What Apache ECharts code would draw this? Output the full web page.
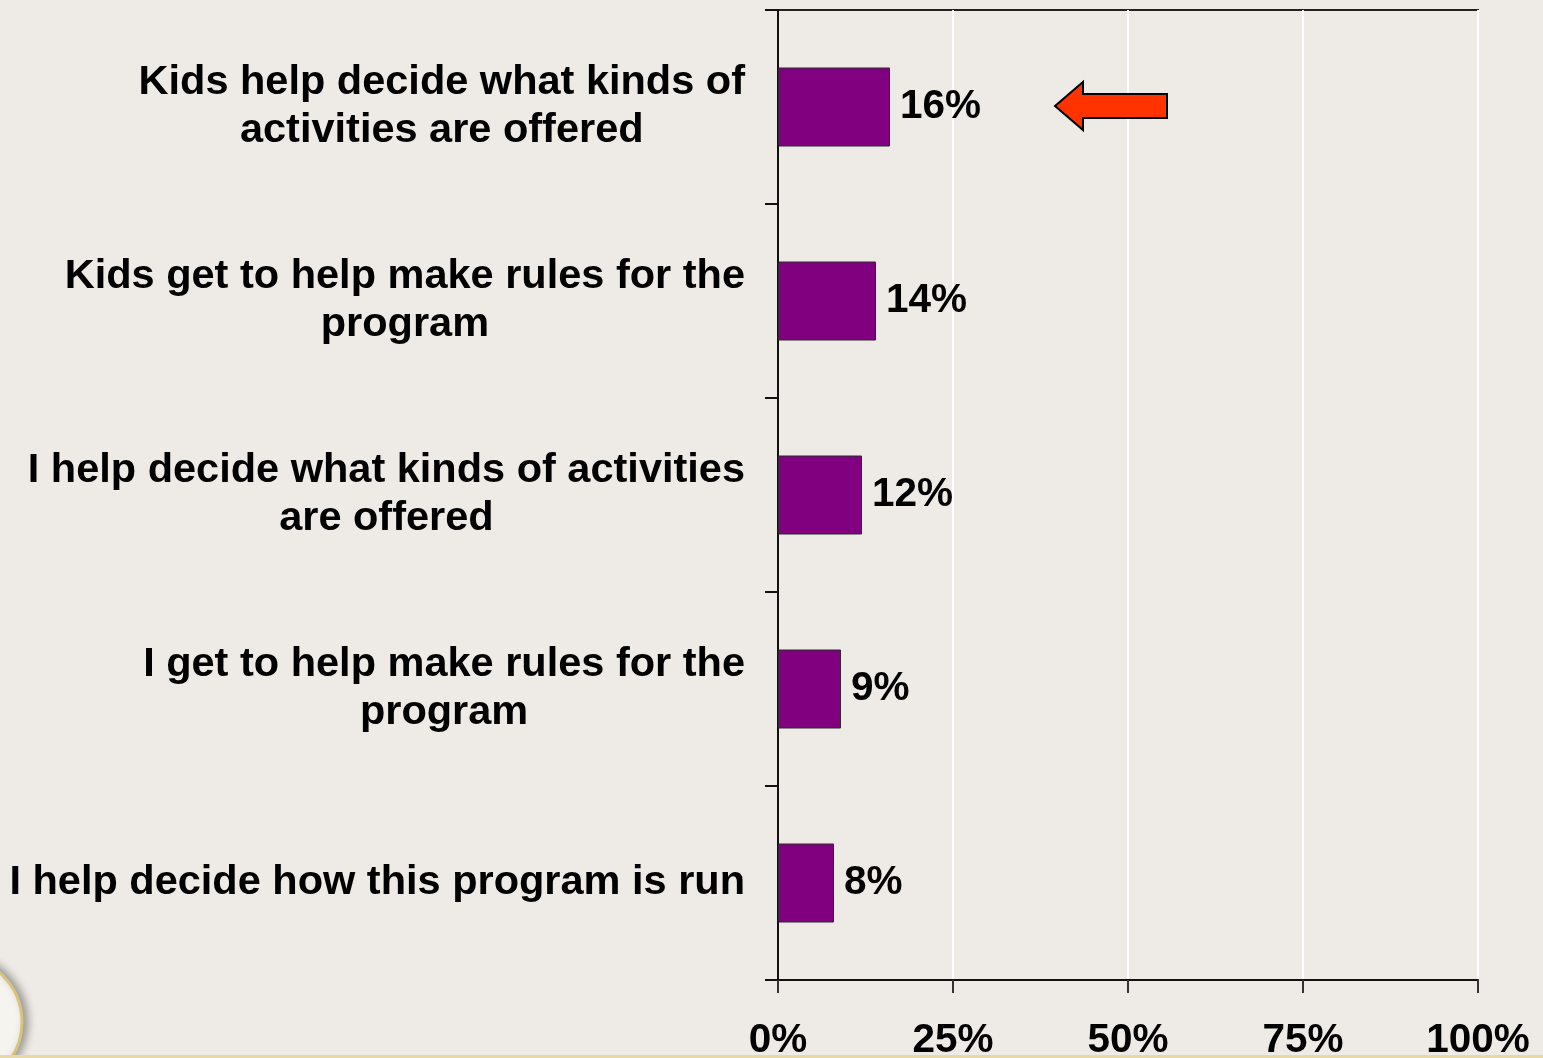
<!DOCTYPE html>
<html>
<head>
<meta charset="utf-8">
<style>
  html, body { margin: 0; padding: 0; background: #EEEBE6; }
  #chart { width: 1543px; height: 1058px; }
</style>
<script src="https://cdn.jsdelivr.net/npm/echarts@6/dist/echarts.min.js"></script>
</head>
<body>
<div id="chart"></div>
<script>
const categories = [
  "Kids help decide what kinds of\nactivities are offered",
  "Kids get to help make rules for the\nprogram",
  "I help decide what kinds of activities\nare offered",
  "I get to help make rules for the\nprogram",
  "I help decide how this program is run"
];
const values = [16, 14, 12, 9, 8];
const xTicks = [0, 25, 50, 75, 100];

const FONT = "'Liberation Sans', Arial, Helvetica, sans-serif";
const chart = echarts.init(document.getElementById('chart'), null, { renderer: 'canvas' });

const option = {
  backgroundColor: '#EEEBE6',
  animation: false,
  grid: {
    left: 778, right: 65, top: 10, bottom: 78,
    containLabel: false, outerBoundsMode: 'none',
    show: true, borderColor: '#222', borderWidth: 2, backgroundColor: 'transparent'
  },
  xAxis: {
    type: 'value',
    min: xTicks[0], max: xTicks[xTicks.length - 1], interval: 25,
    axisLine: { show: true, lineStyle: { color: '#111', width: 2 } },
    axisTick: { show: true, length: 13, lineStyle: { color: '#333', width: 2 } },
    splitLine: { show: true, lineStyle: { color: '#FFFFFF', width: 2 } },
    axisLabel: {
      formatter: '{value}%', margin: 40,
      fontFamily: FONT, fontWeight: 'bold', fontSize: 40.5, color: '#000'
    }
  },
  yAxis: {
    type: 'category',
    inverse: true,
    data: categories,
    boundaryGap: true,
    axisLine: { show: true, lineStyle: { color: '#111', width: 2 } },
    axisTick: { show: true, length: 13, alignWithLabel: false, lineStyle: { color: '#111', width: 2 } },
    splitLine: { show: false },
    axisLabel: {
      align: 'right', margin: 33, verticalAlign: 'middle',
      fontFamily: FONT, fontWeight: 'bold', fontSize: 41.5, color: '#000', lineHeight: 48,
      formatter: function (v) {
        return v.split('\n').map(function (l) { return '{c|' + l + '}'; }).join('\n');
      },
      rich: {
        c: { align: 'center', fontFamily: FONT, fontWeight: 'bold', fontSize: 41.5, color: '#000', lineHeight: 48 }
      }
    }
  },
  series: [{
    type: 'bar',
    data: values,
    barWidth: 79,
    itemStyle: { color: '#800080', borderColor: '#2a2a2a', borderWidth: 1 },
    label: {
      show: true, position: 'right', distance: 10, formatter: '{c}%',
      fontFamily: FONT, fontWeight: 'bold', fontSize: 40.5, color: '#000'
    }
  }],
  graphic: [
    {
      type: 'polygon',
      shape: { points: [[1055, 106], [1083, 82], [1083, 94], [1167, 94], [1167, 118], [1083, 118], [1083, 130]] },
      style: { fill: '#FF3300', stroke: '#000', lineWidth: 2 },
      z: 10
    },
    {
      type: 'circle',
      shape: { cx: -44, cy: 1022, r: 66 },
      style: { fill: '#F6F4EE', stroke: '#D8C27C', lineWidth: 3, shadowBlur: 8, shadowColor: 'rgba(0,0,0,0.35)', shadowOffsetX: 4 },
      z: 10
    },
    {
      type: 'rect',
      shape: { x: 0, y: 1055, width: 1543, height: 3 },
      style: { fill: '#E6D9A6' },
      z: 10
    }
  ]
};
chart.setOption(option);
</script>
</body>
</html>
